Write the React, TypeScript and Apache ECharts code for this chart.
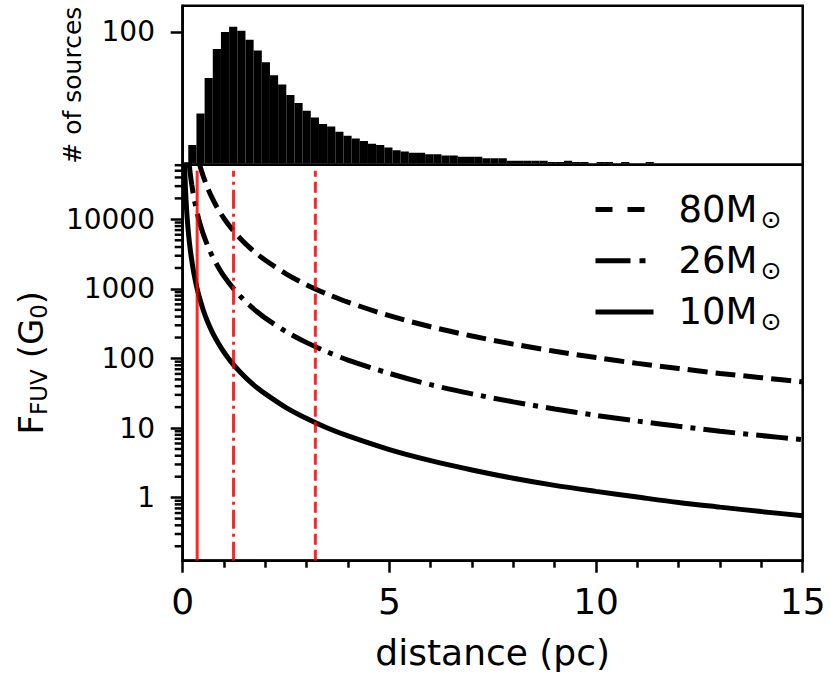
import React, { useEffect, useRef } from 'react';
import * as echarts from 'echarts';

const FONT = '"DejaVu Sans", "Liberation Sans", sans-serif';

// Histogram of source distances (top panel)
const histBinStart = 0.135;
const histBinWidth = 0.1976;
const histCounts = [
  14, 38, 65, 87, 100, 104, 101, 94, 86, 77, 67, 60, 52, 46, 40, 35, 30, 28, 24, 21,
  19, 17, 15, 14, 12, 10, 9, 8, 8, 7, 7, 6, 6, 5, 5, 5, 4, 4, 4, 2,
  2, 2, 2, 2, 1, 1, 2, 1, 1, 0, 1, 1, 0, 1, 0, 0, 1,
];
const histTickValues = [100];
const histMin = -1;
const histMax = 120;

// FUV flux curves (bottom panel)
const dist80M = [0.4, 0.42, 0.45, 0.5, 0.55, 0.6, 0.7, 0.8, 0.9, 1.0, 1.2, 1.4, 1.6, 1.8, 2.0, 2.5, 3.0, 3.5, 4, 5, 6, 7, 8, 9, 10, 11, 12, 13, 14, 15];
const flux80M = [64400, 58400, 50900, 41200, 34000, 28600, 21000, 16100, 12700, 10300, 7150, 5260, 4020, 3180, 2580, 1650, 1140, 840, 644, 412, 286, 210, 161, 127, 103, 85, 72, 61, 53, 46];

const dist26M = [0.15, 0.16, 0.18, 0.2, 0.22, 0.25, 0.28, 0.3, 0.35, 0.4, 0.45, 0.5, 0.6, 0.7, 0.8, 0.9, 1.0, 1.2, 1.4, 1.6, 1.8, 2.0, 2.5, 3.0, 3.5, 4, 5, 6, 7, 8, 9, 10, 11, 12, 13, 14, 15];
const flux26M = [67600, 59400, 46900, 38000, 31400, 24300, 19400, 16900, 12400, 9500, 7510, 6080, 4220, 3100, 2380, 1880, 1520, 1060, 776, 594, 469, 380, 243, 169, 124, 95, 61, 42, 31, 23.8, 18.8, 15.2, 12.6, 10.6, 9.0, 7.8, 6.8];

const dist10M = [0.04, 0.045, 0.05, 0.06, 0.07, 0.08, 0.09, 0.1, 0.12, 0.14, 0.16, 0.18, 0.2, 0.25, 0.3, 0.35, 0.4, 0.5, 0.6, 0.7, 0.8, 0.9, 1.0, 1.2, 1.4, 1.6, 1.8, 2.0, 2.5, 3.0, 3.5, 4, 5, 6, 7, 8, 9, 10, 11, 12, 13, 14, 15];
const flux10M = [76900, 60700, 49200, 34200, 25100, 19200, 15200, 12300, 8540, 6280, 4800, 3800, 3080, 1970, 1370, 1000, 770, 490, 340, 250, 192, 152, 123, 85, 63, 48, 38, 31, 19.7, 13.7, 10.0, 7.7, 4.9, 3.4, 2.5, 1.9, 1.5, 1.23, 1.02, 0.85, 0.73, 0.63, 0.55];

// Red vertical markers (distance where each curve reaches 1000 G0)
const markerDistances = [0.35, 1.23, 3.21];
const markerTop = 50000;

const fluxMin = 0.124;
const fluxMax = 61000;
const fluxTickValues = [1, 10, 100, 1000, 10000];
const fluxMinorMantissas = [2, 3, 4, 5, 6, 7, 8, 9];
const fluxMinorDecades = [-1, 0, 1, 2, 3, 4];
const distTickLabels = ['0', '5', '10', '15'];

const seriesNames = ['80M', '26M', '10M'];

function zip(xs: number[], ys: number[]) {
  return xs.map((x, i) => [x, ys[i]]);
}

function buildOption() {
  const histData = histCounts.map((c, i) => [
    histBinStart + i * histBinWidth,
    histBinStart + (i + 1) * histBinWidth,
    c,
  ]);

  const minorTicks: number[][] = [];
  fluxMinorDecades.forEach((e) => {
    fluxMinorMantissas.forEach((m) => {
      const v = m * Math.pow(10, e);
      if (v >= fluxMin && v <= fluxMax) minorTicks.push([0, v]);
    });
  });

  const black = '#000';
  const axisLineX = { show: true, onZero: false, lineStyle: { color: black, width: 2.5 } };
  const axisLineY0 = { show: true, onZero: false, lineStyle: { color: black, width: 2.5 } };
  const axisLineY1 = { show: true, onZero: false, lineStyle: { color: black, width: 2.5 } };
  const red = 'rgba(255,0,0,0.85)';
  const markerStyles: any[] = ['solid', [19, 5, 3, 5], [11, 5]];

  const curveCommon = {
    type: 'line',
    xAxisIndex: 1,
    yAxisIndex: 1,
    symbol: 'none',
    showSymbol: false,
    smooth: 0.3,
    clip: true,
    silent: true,
    z: 3,
  };

  return {
    animation: false,
    backgroundColor: '#fff',
    grid: [
      { left: 182.7, top: 5.7, width: 620, height: 159, show: true, borderColor: black, borderWidth: 2.5 },
      { left: 182.7, top: 164.7, width: 620, height: 396, show: true, borderColor: black, borderWidth: 2.5 },
    ],
    legend: {
      orient: 'vertical',
      left: 588,
      top: 186,
      itemWidth: 58,
      itemHeight: 44,
      itemGap: 10.7,
      selectedMode: false,
      data: [
        { name: '80M', lineStyle: { type: [17, 15] } },
        { name: '26M', lineStyle: { type: [35, 9, 6, 20] } },
        { name: '10M' },
      ],
      lineStyle: { width: 5 },
      itemStyle: { opacity: 0 },
      formatter: (n: string) => `{m|${n}}{s|⊙}`,
      textStyle: {
        rich: {
          m: { fontSize: 37, fontFamily: FONT, color: black, lineHeight: 44, padding: [0, 0, 0, 20] },
          s: { fontSize: 25, fontFamily: FONT, color: black, lineHeight: 24, verticalAlign: 'bottom', padding: [0, 0, 0, 3] },
        },
      },
    },
    xAxis: [
      {
        gridIndex: 0, type: 'value', min: 0, max: 15,
        axisLine: { show: false }, axisTick: { show: false }, axisLabel: { show: false }, splitLine: { show: false },
      },
      {
        gridIndex: 1, type: 'value', min: 0, max: 15, interval: 5,
        axisLine: axisLineX,
        axisTick: { show: true, length: 12, lineStyle: { color: black, width: 2.5 } },
        minorTick: { show: true, splitNumber: 5, length: 7, lineStyle: { color: black, width: 2.5 } },
        axisLabel: {
          fontSize: 36, fontFamily: FONT, color: black, margin: 23,
          formatter: (v: number) => distTickLabels[Math.round(v / 5)] ?? String(v),
        },
        splitLine: { show: false },
        name: 'distance (pc)',
        nameLocation: 'middle',
        nameGap: 74,
        nameTextStyle: { fontSize: 36, fontFamily: FONT, color: black },
      },
    ],
    yAxis: [
      {
        gridIndex: 0, type: 'value', min: histMin, max: histMax,
        axisLine: axisLineY0,
        axisTick: { show: true, length: 12, customValues: histTickValues, lineStyle: { color: black, width: 2.5 } },
        axisLabel: { customValues: histTickValues, fontSize: 28, fontFamily: FONT, color: black, margin: 27.7 },
        splitLine: { show: false },
        name: '# of sources',
        nameLocation: 'middle',
        nameGap: 95,
        nameTextStyle: { fontSize: 25, fontFamily: FONT, color: black, lineHeight: 30 },
      },
      {
        gridIndex: 1, type: 'log', logBase: 10, min: fluxMin, max: fluxMax,
        axisLine: axisLineY1,
        axisTick: { show: true, length: 12, customValues: fluxTickValues, lineStyle: { color: black, width: 2.5 } },
        axisLabel: {
          customValues: fluxTickValues, fontSize: 28, fontFamily: FONT, color: black, margin: 27.7,
          formatter: (v: number) => String(Math.round(v)),
        },
        splitLine: { show: false },
        name: '{a|F}{b|FUV}{a| (G}{b|0}{a|)}',
        nameLocation: 'middle',
        nameGap: 132,
        nameTextStyle: {
          rich: {
            a: { fontSize: 34, fontFamily: FONT, color: black, lineHeight: 40 },
            b: { fontSize: 23, fontFamily: FONT, color: black, lineHeight: 26, verticalAlign: 'bottom' },
          },
        },
      },
    ],
    series: [
      {
        type: 'custom',
        xAxisIndex: 0,
        yAxisIndex: 0,
        silent: true,
        clip: true,
        encode: { x: [0, 1], y: 2 },
        data: histData,
        renderItem: (_params: any, api: any) => {
          const p0 = api.coord([api.value(0), api.value(2)]);
          const p1 = api.coord([api.value(1), 0]);
          return {
            type: 'rect',
            shape: { x: p0[0], y: p0[1], width: p1[0] - p0[0], height: p1[1] - p0[1] },
            style: { fill: black },
          };
        },
      },
      { ...curveCommon, name: seriesNames[0], data: zip(dist80M, flux80M), lineStyle: { color: black, width: 5, type: [20, 8] } },
      { ...curveCommon, name: seriesNames[1], data: zip(dist26M, flux26M), lineStyle: { color: black, width: 5, type: [32, 8, 5, 8] } },
      { ...curveCommon, name: seriesNames[2], data: zip(dist10M, flux10M), lineStyle: { color: black, width: 5, type: 'solid' } },
      ...markerDistances.map((d, i) => ({
        type: 'line',
        xAxisIndex: 1,
        yAxisIndex: 1,
        symbol: 'none',
        silent: true,
        clip: true,
        z: 4,
        data: [[d, fluxMin], [d, markerTop]],
        lineStyle: { color: red, width: 3, type: markerStyles[i] },
      })),
      {
        type: 'scatter',
        xAxisIndex: 1,
        yAxisIndex: 1,
        silent: true,
        clip: false,
        z: 5,
        symbol: 'rect',
        symbolSize: [8, 2.5],
        symbolOffset: [-4, 0],
        itemStyle: { color: black, opacity: 1 },
        data: minorTicks,
      },
    ],
  };
}

export default function App() {
  const ref = useRef<HTMLDivElement>(null);
  useEffect(() => {
    if (!ref.current) return;
    const chart = echarts.init(ref.current, undefined, { renderer: 'svg' });
    chart.setOption(buildOption() as any);
    return () => chart.dispose();
  }, []);
  return (
    <div
      ref={ref}
      style={{ position: 'fixed', left: 0, top: 0, width: 830, height: 685, background: '#fff' }}
    />
  );
}
